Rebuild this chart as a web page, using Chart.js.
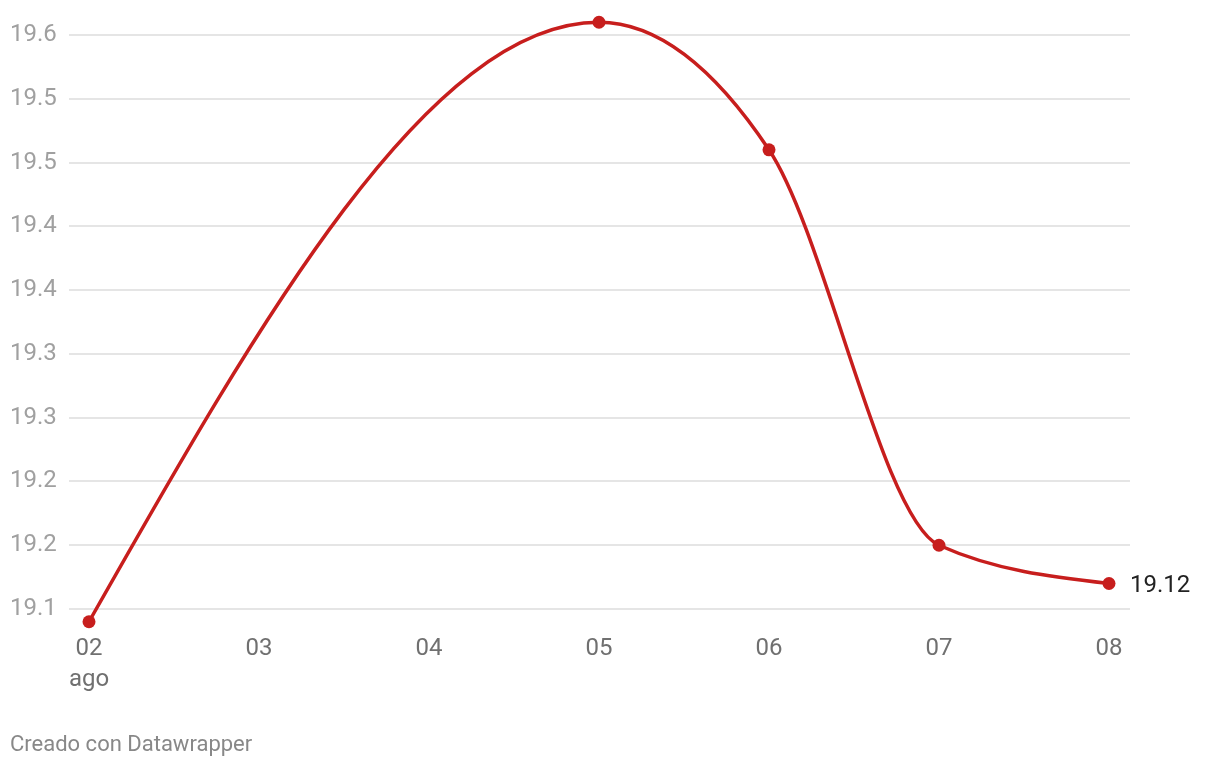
<!DOCTYPE html>
<html>
<head>
<meta charset="utf-8">
<script src="https://cdn.jsdelivr.net/npm/chart.js@4.4.1/dist/chart.umd.min.js"></script>
<style>
  html, body { margin: 0; padding: 0; background: #ffffff; }
  #wrap { position: relative; width: 1220px; height: 768px; }
  #footer { position: absolute; left: 10px; top: 730px; font-family: Roboto, sans-serif; font-size: 22px; line-height: 28px; color: #888888; }
</style>
</head>
<body>
<div id="wrap">
  <canvas id="c" width="1220" height="768"></canvas>
  <div id="footer">Creado con Datawrapper</div>
</div>
<script>
// ---- data ----
const xValues = [2, 5, 6, 7, 8];
const yValues = [19.09, 19.56, 19.46, 19.15, 19.12];
const xTickValues = [2, 3, 4, 5, 6, 7, 8];
const xTickLabels = [['02', 'ago'], '03', '04', '05', '06', '07', '08'];
const yTickValues = [19.10, 19.15, 19.20, 19.25, 19.30, 19.35, 19.40, 19.45, 19.50, 19.55];
const yTickLabels = ['19.1', '19.2', '19.2', '19.3', '19.3', '19.4', '19.4', '19.5', '19.5', '19.6'];

const RED = '#c71e1d';
const PX_PER_UNIT = 1275.6;   // vertical scale of the reference
const Y_MARGIN = 20 / PX_PER_UNIT;

// d3 curveMonotoneX-style control points
const monotonePlugin = {
  id: 'monotoneX',
  beforeDatasetDraw(chart, args) {
    const meta = args.meta;
    const line = meta.dataset;
    line.updateControlPoints(chart.chartArea, 'x');
    const pts = meta.data;
    const n = pts.length;
    const h = [], s = [];
    for (let i = 0; i < n - 1; i++) {
      h[i] = pts[i + 1].x - pts[i].x;
      s[i] = (pts[i + 1].y - pts[i].y) / h[i];
    }
    const t = new Array(n);
    for (let i = 1; i < n - 1; i++) {
      const p = (s[i - 1] * h[i] + s[i] * h[i - 1]) / (h[i - 1] + h[i]);
      t[i] = (Math.sign(s[i - 1]) + Math.sign(s[i])) * Math.min(Math.abs(s[i - 1]), Math.abs(s[i]), 0.5 * Math.abs(p)) || 0;
    }
    t[0] = (3 * s[0] - t[1]) / 2;
    t[n - 1] = (3 * s[n - 2] - t[n - 2]) / 2;
    for (let i = 0; i < n - 1; i++) {
      const d = h[i] / 3;
      pts[i].cp2x = pts[i].x + d;
      pts[i].cp2y = pts[i].y + t[i] * d;
      pts[i + 1].cp1x = pts[i + 1].x - d;
      pts[i + 1].cp1y = pts[i + 1].y - t[i + 1] * d;
    }
    pts[0].cp1x = pts[0].x; pts[0].cp1y = pts[0].y;
    pts[n - 1].cp2x = pts[n - 1].x; pts[n - 1].cp2y = pts[n - 1].y;
  }
};

const endLabelPlugin = {
  id: 'endLabel',
  afterDatasetsDraw(chart) {
    const meta = chart.getDatasetMeta(0);
    const last = meta.data[meta.data.length - 1];
    const ctx = chart.ctx;
    ctx.save();
    ctx.font = '24px Roboto, sans-serif';
    ctx.fillStyle = '#222222';
    ctx.textAlign = 'left';
    ctx.textBaseline = 'middle';
    ctx.fillText(yValues[yValues.length - 1].toFixed(2), last.x + 21, last.y + 3);
    ctx.restore();
  }
};

new Chart(document.getElementById('c'), {
  type: 'line',
  data: {
    datasets: [{
      data: xValues.map((x, i) => ({ x: x, y: yValues[i] })),
      borderColor: RED,
      backgroundColor: RED,
      borderWidth: 3.5,
      pointRadius: 6.5,
      pointBorderWidth: 0,
      pointBackgroundColor: RED,
      cubicInterpolationMode: 'monotone',
      clip: false,
      fill: false
    }]
  },
  options: {
    responsive: false,
    animation: false,
    events: [],
    layout: { padding: { left: 10, right: 90, top: 15, bottom: 0 } },
    plugins: { legend: { display: false }, tooltip: { enabled: false } },
    scales: {
      x: {
        type: 'linear',
        min: 2 - 20 / 170,
        max: 8 + 21 / 170,
        afterBuildTicks: (axis) => { axis.ticks = xTickValues.map(v => ({ value: v })); },
        afterFit: (axis) => { axis.height = 139; axis.paddingLeft = 0; axis.paddingRight = 0; },
        grid: { display: false, drawTicks: false },
        border: { display: false },
        ticks: {
          padding: 4,
          maxRotation: 0,
          autoSkip: false,
          color: '#707070',
          font: { family: 'Roboto', size: 24, lineHeight: 1.3 },
          callback: (v) => { const i = xTickValues.indexOf(v); return i >= 0 ? xTickLabels[i] : ''; }
        }
      },
      y: {
        min: 19.10 - Y_MARGIN,
        max: 19.55 + Y_MARGIN,
        afterBuildTicks: (axis) => { axis.ticks = yTickValues.map(v => ({ value: v })); },
        afterFit: (axis) => { axis.width = 59; axis.paddingTop = 0; axis.paddingBottom = 0; },
        grid: { color: '#e5e5e5', lineWidth: 2, drawTicks: false },
        border: { display: false },
        ticks: {
          crossAlign: 'far',
          padding: 10,
          color: '#a0a0a0',
          font: { family: 'Roboto', size: 24 },
          callback: (v) => {
            let idx = 0, best = Infinity;
            yTickValues.forEach((t, i) => { const d = Math.abs(t - v); if (d < best) { best = d; idx = i; } });
            return yTickLabels[idx];
          }
        }
      }
    }
  },
  plugins: [monotonePlugin, endLabelPlugin]
});
</script>
</body>
</html>
